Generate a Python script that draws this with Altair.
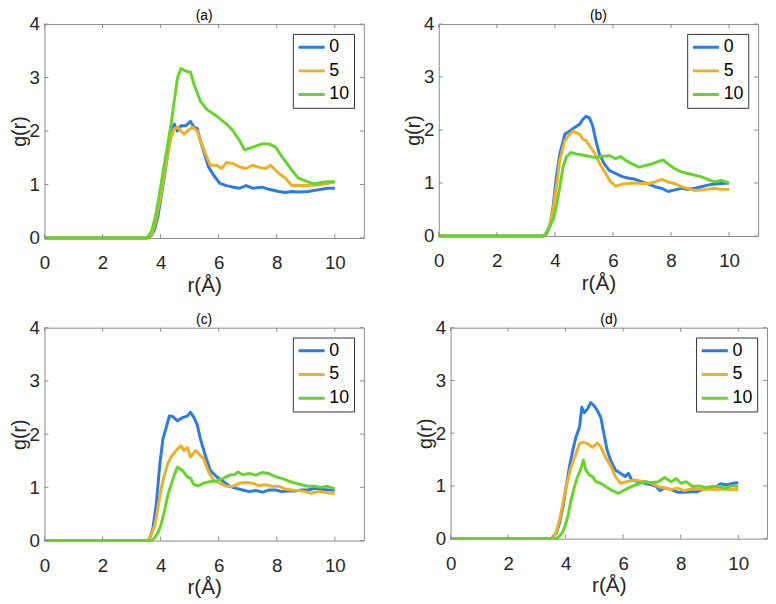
import altair as alt
import pandas as pd

SERIES = ["0", "5", "10"]
COLORS = ["#2b7be6", "#eeb024", "#64d62a"]
X_TICKS = [0, 2, 4, 6, 8, 10]
Y_TICKS = [0, 1, 2, 3, 4]
TITLES = ["(a)", "(b)", "(c)", "(d)"]

# panel (a)
A0 = [(0, 0), (3.55, 0), (3.69, 0.05), (3.8, 0.17), (3.91, 0.41), (4.02, 0.78), (4.13, 1.15), (4.25, 1.58),
      (4.36, 1.94), (4.47, 2.13), (4.58, 2.0), (4.7, 2.1), (4.87, 2.1), (5.03, 2.18), (5.15, 2.07), (5.26, 2.05),
      (5.37, 1.82), (5.54, 1.52), (5.65, 1.33), (5.82, 1.18), (6.04, 1.02), (6.27, 0.98), (6.5, 0.95), (6.72, 0.93),
      (6.94, 0.98), (7.17, 0.93), (7.5, 0.95), (7.73, 0.91), (8.07, 0.87), (8.29, 0.85), (8.52, 0.87), (8.74, 0.86),
      (9.08, 0.87), (9.41, 0.9), (9.75, 0.93), (10.0, 0.93)]
A5 = [(0, 0), (3.55, 0), (3.69, 0.07), (3.8, 0.25), (3.91, 0.53), (4.02, 0.84), (4.13, 1.21), (4.25, 1.58),
      (4.36, 1.88), (4.47, 2.04), (4.58, 2.07), (4.7, 2.0), (4.81, 1.94), (4.92, 2.0), (5.09, 2.07), (5.26, 2.0),
      (5.37, 1.82), (5.54, 1.58), (5.71, 1.36), (5.93, 1.36), (6.1, 1.3), (6.27, 1.41), (6.5, 1.39), (6.72, 1.33),
      (6.94, 1.3), (7.17, 1.36), (7.39, 1.32), (7.62, 1.3), (7.79, 1.36), (8.07, 1.21), (8.29, 1.12), (8.52, 0.98),
      (8.74, 0.98), (9.08, 0.98), (9.41, 0.99), (9.75, 1.02), (10.0, 1.05)]
A10 = [(0, 0), (3.5, 0), (3.6, 0.05), (3.69, 0.13), (3.8, 0.35), (3.91, 0.66), (4.02, 1.02), (4.13, 1.39),
       (4.25, 1.76), (4.36, 2.13), (4.47, 2.56), (4.58, 2.99), (4.7, 3.17), (4.8, 3.14), (4.92, 3.11), (5.03, 3.1),
       (5.15, 2.87), (5.37, 2.56), (5.6, 2.4), (5.93, 2.28), (6.27, 2.13), (6.5, 2.0), (6.72, 1.82), (6.89, 1.65),
       (7.17, 1.7), (7.5, 1.76), (7.73, 1.76), (7.96, 1.7), (8.18, 1.52), (8.52, 1.27), (8.74, 1.12), (9.08, 1.05),
       (9.3, 1.01), (9.53, 1.04), (9.75, 1.05), (10.0, 1.05)]

# panel (b)
B0 = [(0, 0), (3.6, 0), (3.72, 0.05), (3.83, 0.19), (3.94, 0.56), (4.05, 1.12), (4.17, 1.55), (4.34, 1.92),
      (4.51, 1.98), (4.68, 2.05), (4.85, 2.11), (4.96, 2.2), (5.07, 2.26), (5.19, 2.23), (5.3, 2.08), (5.41, 1.8),
      (5.53, 1.55), (5.7, 1.36), (5.87, 1.24), (6.09, 1.18), (6.32, 1.12), (6.55, 1.09), (6.77, 1.07), (7.0, 1.02),
      (7.23, 0.98), (7.45, 0.93), (7.68, 0.9), (7.9, 0.84), (8.13, 0.87), (8.36, 0.9), (8.58, 0.88), (8.81, 0.9),
      (9.04, 0.93), (9.26, 0.96), (9.49, 0.98), (9.72, 0.99), (10.0, 1.0)]
B5 = [(0, 0), (3.6, 0), (3.72, 0.07), (3.83, 0.22), (3.94, 0.5), (4.05, 0.93), (4.17, 1.43), (4.34, 1.8),
      (4.51, 1.92), (4.62, 1.98), (4.73, 1.95), (4.85, 1.92), (4.96, 1.83), (5.07, 1.8), (5.24, 1.67), (5.41, 1.52),
      (5.58, 1.33), (5.75, 1.18), (5.92, 1.02), (6.09, 0.94), (6.32, 0.98), (6.55, 0.99), (6.77, 1.0), (7.0, 0.99),
      (7.23, 0.99), (7.45, 1.02), (7.68, 1.07), (7.9, 1.02), (8.13, 0.99), (8.36, 0.93), (8.58, 0.9), (8.81, 0.86),
      (9.04, 0.87), (9.26, 0.88), (9.49, 0.9), (9.72, 0.88), (10.0, 0.88)]
B10 = [(0, 0), (3.6, 0), (3.71, 0.06), (3.83, 0.19), (3.94, 0.31), (4.05, 0.56), (4.17, 0.93), (4.28, 1.3),
       (4.39, 1.49), (4.56, 1.58), (4.73, 1.55), (4.96, 1.53), (5.19, 1.5), (5.41, 1.48), (5.64, 1.5), (5.87, 1.52),
       (6.09, 1.46), (6.26, 1.5), (6.43, 1.43), (6.66, 1.36), (6.89, 1.3), (7.11, 1.33), (7.34, 1.36), (7.57, 1.41),
       (7.74, 1.43), (7.9, 1.36), (8.13, 1.27), (8.36, 1.21), (8.58, 1.18), (8.81, 1.15), (9.04, 1.12), (9.26, 1.07),
       (9.49, 1.02), (9.72, 1.05), (10.0, 1.0)]

# panel (c)
C0 = [(0, 0), (3.57, 0), (3.65, 0.08), (3.74, 0.25), (3.85, 0.68), (3.97, 1.42), (4.08, 1.91), (4.19, 2.12),
      (4.3, 2.34), (4.42, 2.33), (4.58, 2.25), (4.75, 2.31), (4.92, 2.34), (5.03, 2.41), (5.15, 2.31), (5.26, 2.18),
      (5.37, 1.91), (5.54, 1.6), (5.71, 1.32), (5.93, 1.2), (6.16, 1.11), (6.38, 1.02), (6.61, 0.98), (6.83, 0.95),
      (7.06, 0.92), (7.28, 0.94), (7.51, 0.91), (7.73, 0.95), (7.96, 0.95), (8.18, 0.92), (8.4, 0.93), (8.63, 0.93),
      (8.85, 0.95), (9.08, 0.95), (9.3, 0.98), (9.53, 0.97), (9.75, 0.95), (10.0, 0.95)]
C5 = [(0, 0), (3.57, 0), (3.63, 0.06), (3.8, 0.28), (3.91, 0.62), (4.02, 0.98), (4.13, 1.23), (4.25, 1.45),
      (4.36, 1.57), (4.53, 1.69), (4.7, 1.78), (4.81, 1.69), (4.92, 1.75), (5.03, 1.57), (5.2, 1.69), (5.37, 1.6),
      (5.48, 1.54), (5.65, 1.29), (5.82, 1.14), (6.04, 1.08), (6.27, 1.02), (6.49, 1.02), (6.72, 1.08), (6.94, 1.09),
      (7.17, 1.08), (7.39, 1.03), (7.62, 1.05), (7.84, 1.02), (8.07, 1.02), (8.29, 0.97), (8.52, 0.95), (8.74, 0.94),
      (8.97, 0.92), (9.19, 0.89), (9.42, 0.92), (9.64, 0.91), (9.87, 0.89), (10.0, 0.89)]
C10 = [(0, 0), (3.7, 0), (3.8, 0.06), (3.91, 0.15), (4.02, 0.31), (4.13, 0.55), (4.25, 0.86), (4.36, 1.05),
       (4.47, 1.23), (4.58, 1.38), (4.75, 1.32), (4.92, 1.2), (5.03, 1.17), (5.15, 1.05), (5.31, 1.03), (5.48, 1.08),
       (5.71, 1.11), (5.93, 1.12), (6.16, 1.17), (6.38, 1.23), (6.55, 1.24), (6.66, 1.29), (6.83, 1.24), (7.06, 1.26),
       (7.28, 1.23), (7.51, 1.28), (7.73, 1.26), (7.96, 1.2), (8.18, 1.17), (8.4, 1.12), (8.63, 1.08), (8.85, 1.05),
       (9.08, 1.02), (9.3, 1.02), (9.53, 1.0), (9.75, 1.02), (10.0, 0.97)]

# panel (d)
D0 = [(0, 0), (3.51, 0), (3.68, 0.11), (3.79, 0.3), (3.91, 0.61), (4.02, 0.99), (4.13, 1.36), (4.25, 1.68),
      (4.36, 1.93), (4.48, 2.11), (4.56, 2.49), (4.65, 2.39), (4.76, 2.46), (4.87, 2.58), (4.99, 2.52), (5.1, 2.43),
      (5.22, 2.3), (5.33, 1.99), (5.44, 1.68), (5.56, 1.49), (5.73, 1.3), (5.9, 1.24), (6.07, 1.18), (6.18, 1.24),
      (6.3, 1.11), (6.53, 1.08), (6.75, 1.05), (6.98, 1.02), (7.15, 0.99), (7.27, 0.91), (7.44, 0.96), (7.67, 0.93),
      (7.89, 0.88), (8.12, 0.88), (8.35, 0.89), (8.58, 0.89), (8.8, 0.94), (9.03, 0.96), (9.26, 0.99), (9.37, 1.04),
      (9.6, 1.02), (9.83, 1.05), (10.0, 1.06)]
D5 = [(0, 0), (3.56, 0), (3.68, 0.14), (3.79, 0.36), (3.91, 0.68), (4.02, 0.99), (4.19, 1.36), (4.36, 1.61),
      (4.48, 1.8), (4.59, 1.83), (4.76, 1.8), (4.93, 1.73), (5.1, 1.81), (5.22, 1.74), (5.33, 1.61), (5.44, 1.49),
      (5.56, 1.39), (5.73, 1.18), (5.9, 1.05), (6.13, 1.08), (6.41, 1.11), (6.75, 1.08), (6.98, 1.05), (7.21, 0.99),
      (7.44, 0.96), (7.67, 0.93), (7.89, 0.96), (8.12, 0.91), (8.35, 0.94), (8.58, 0.94), (8.8, 0.93), (9.03, 0.94),
      (9.26, 0.93), (9.49, 0.94), (9.72, 0.93), (10.0, 0.93)]
D10 = [(0, 0), (3.68, 0), (3.85, 0.08), (3.96, 0.21), (4.08, 0.43), (4.19, 0.74), (4.31, 0.99), (4.42, 1.18),
       (4.53, 1.33), (4.62, 1.49), (4.7, 1.3), (4.82, 1.21), (4.93, 1.18), (5.05, 1.08), (5.22, 1.05), (5.39, 0.99),
       (5.62, 0.91), (5.84, 0.86), (6.07, 0.93), (6.3, 0.99), (6.53, 1.04), (6.75, 1.08), (6.98, 1.06), (7.21, 1.08),
       (7.44, 1.16), (7.67, 1.08), (7.84, 1.14), (8.01, 1.05), (8.18, 1.08), (8.41, 0.99), (8.63, 1.0), (8.86, 0.97),
       (9.09, 0.99), (9.32, 0.99), (9.54, 0.96), (9.77, 1.0), (10.0, 0.99)]

FONT = "Liberation Sans"
FRAME = "#8a8a8a"
TEXT = "#262626"
TICK_LEN = 4


def panel(title, curves, w, h):
    xs = alt.Scale(domain=[0, 11], nice=False, zero=False)
    ys = alt.Scale(domain=[0, 4], nice=False)
    xax = alt.Axis(values=X_TICKS, title="r(Å)")
    yax = alt.Axis(values=Y_TICKS, title="g(r)")
    cscale = alt.Scale(domain=SERIES, range=COLORS)
    legend = alt.Legend(title=None, orient="top-right", offset=10, symbolType="stroke",
                        symbolStrokeWidth=3, symbolSize=700, labelFontSize=18, labelColor="#000",
                        strokeColor="#333", fillColor="white", padding=4, rowPadding=5, clipHeight=19,
                        labelOffset=3, labelFont=FONT)
    layers = []
    for name, pts in zip(SERIES, curves):
        df = pd.DataFrame(pts, columns=["r", "g"])
        df["s"] = name
        layers.append(
            alt.Chart(df).mark_line(strokeWidth=3, strokeJoin="round").encode(
                x=alt.X("r:Q", scale=xs, axis=xax),
                y=alt.Y("g:Q", scale=ys, axis=yax),
                color=alt.Color("s:N", scale=cscale, legend=legend),
            )
        )
    xt = pd.DataFrame({"r": X_TICKS})
    yt = pd.DataFrame({"g": Y_TICKS})
    rule = dict(color=FRAME, strokeWidth=1)
    bottom = alt.Chart(xt).mark_rule(**rule).encode(
        x=alt.X("r:Q", scale=xs, axis=xax), y=alt.value(h), y2=alt.value(h - TICK_LEN))
    top = alt.Chart(xt).mark_rule(**rule).encode(
        x=alt.X("r:Q", scale=xs, axis=xax), y=alt.value(0), y2=alt.value(TICK_LEN))
    left = alt.Chart(yt).mark_rule(**rule).encode(
        y=alt.Y("g:Q", scale=ys, axis=yax), x=alt.value(0), x2=alt.value(TICK_LEN))
    right = alt.Chart(yt).mark_rule(**rule).encode(
        y=alt.Y("g:Q", scale=ys, axis=yax), x=alt.value(w), x2=alt.value(w - TICK_LEN))
    return alt.layer(*layers, bottom, top, left, right).properties(
        width=w, height=h, title=alt.TitleParams(title, fontSize=14, fontWeight="normal", offset=-8,
                                                 font=FONT, color="#000"))


pa = panel(TITLES[0], [A0, A5, A10], 324, 217)
pb = panel(TITLES[1], [B0, B5, B10], 324, 215)
pc = panel(TITLES[2], [C0, C5, C10], 324, 216)
pd_ = panel(TITLES[3], [D0, D5, D10], 321, 214)

row1 = alt.hconcat(pa, pb, spacing=38).resolve_scale(color="independent").resolve_legend(color="independent")
row2 = alt.hconcat(pc, pd_, spacing=50).resolve_scale(color="independent").resolve_legend(color="independent")

chart = alt.vconcat(row1, row2, spacing=16).resolve_scale(color="independent").resolve_legend(
    color="independent").properties(padding={"left": 0, "top": -4, "right": 0, "bottom": 0}).configure(
    font=FONT).configure_view(stroke=FRAME, strokeWidth=1).configure_axis(
    grid=False, domain=False, ticks=False, labelFontSize=19, titleFontSize=21, labelColor=TEXT,
    titleColor=TEXT, titleFontWeight="normal", labelFlush=False, labelOverlap=False,
    labelFont=FONT, titleFont=FONT).configure_axisX(labelPadding=16, titlePadding=2).configure_axisY(
    labelPadding=5, titlePadding=0, titleFontSize=20)

chart.save("out.html", embed_options={"renderer": "svg", "actions": False})
